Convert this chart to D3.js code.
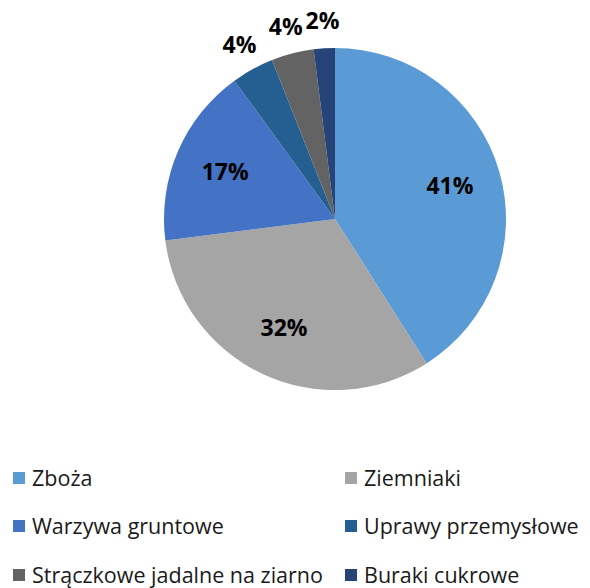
<!DOCTYPE html>
<html>
<head>
<meta charset="utf-8">
<script src="https://cdn.jsdelivr.net/npm/d3@7"></script>
<style>
html, body { margin: 0; padding: 0; background: #fff; }
svg text { font-family: "Open Sans", "Liberation Sans", sans-serif; }
</style>
</head>
<body>
<div id="chart"></div>
<script>
// crop shares (percent)
var categories = ["Zboża", "Ziemniaki", "Warzywa gruntowe", "Uprawy przemysłowe", "Strączkowe jadalne na ziarno", "Buraki cukrowe"];
var values = [41, 32, 17, 4, 4, 2];
var colors = ["#5b9bd5", "#a5a5a5", "#4472c4", "#255e91", "#636363", "#264478"];

var width = 590, height = 588;
var cx = 335, cy = 219, radius = 171;

var svg = d3.select("#chart").append("svg")
	.attr("width", width)
	.attr("height", height);

var color = d3.scaleOrdinal().domain(categories).range(colors);

var pie = d3.pie().sort(null).value(function(d){ return d.value; });
var data = categories.map(function(c, i){ return {name: c, value: values[i]}; });
var arcs = pie(data);

var arc = d3.arc().innerRadius(0).outerRadius(radius);
var inLabel = d3.arc().innerRadius(radius * 0.7).outerRadius(radius * 0.7);
var outLabel = d3.arc().innerRadius(radius * 1.16).outerRadius(radius * 1.16);

var g = svg.append("g").attr("transform", "translate(" + cx + "," + cy + ")");

g.selectAll("path.slice")
	.data(arcs)
	.enter().append("path")
	.attr("class", "slice")
	.attr("d", arc)
	.attr("fill", function(d){ return color(d.data.name); });

var total = d3.sum(values);
g.selectAll("text.lbl")
	.data(arcs)
	.enter().append("text")
	.attr("class", "lbl")
	.attr("transform", function(d){
		var pos = (d.data.value / total < 0.05) ? outLabel.centroid(d) : inLabel.centroid(d);
		return "translate(" + pos + ")";
	})
	.attr("text-anchor", "middle")
	.attr("dy", "0.36em")
	.attr("font-size", 23)
	.attr("font-weight", "bold")
	.attr("fill", "#000")
	.text(function(d){ return Math.round(d.data.value / total * 100) + "%"; });

// legend, two columns
var legend = svg.append("g").attr("class", "legend");
var colX = [13, 345], rowY = [478, 526, 575];
var items = legend.selectAll("g.item")
	.data(data)
	.enter().append("g")
	.attr("class", "item")
	.attr("transform", function(d, i){
		return "translate(" + colX[i % 2] + "," + rowY[Math.floor(i / 2)] + ")";
	});
items.append("rect")
	.attr("x", 0).attr("y", -6)
	.attr("width", 12).attr("height", 12)
	.attr("fill", function(d){ return color(d.name); });
items.append("text")
	.attr("x", 19)
	.attr("dy", "0.36em")
	.attr("font-size", 21.5)
	.attr("fill", "#1a1a1a")
	.text(function(d){ return d.name; });
</script>
</body>
</html>
